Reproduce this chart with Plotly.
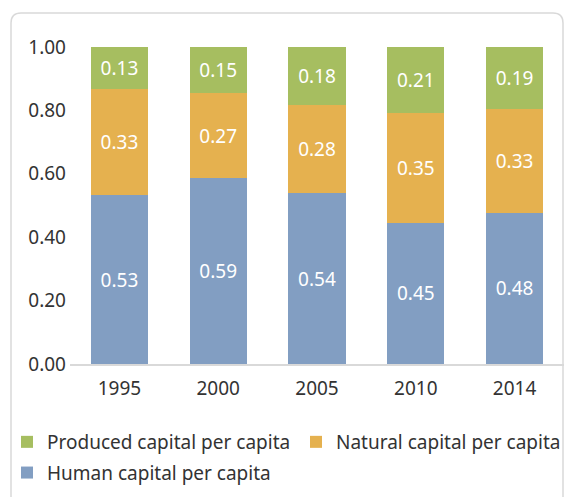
import plotly.graph_objects as go

years = ["1995", "2000", "2005", "2010", "2014"]
human = [0.533, 0.587, 0.538, 0.446, 0.477]
natural = [0.333, 0.267, 0.278, 0.346, 0.328]
produced = [0.134, 0.146, 0.184, 0.208, 0.194]
y_ticks = [0.0, 0.2, 0.4, 0.6, 0.8, 1.0]

W, H = 565, 497
ML, MR, MT, MB = 70, 1, 47, 133
PW, PH = W - ML - MR, H - MT - MB


def px_x(px):
    return (px - ML) / PW


def px_y(py):
    return (H - MB - py) / PH


FONT = "Noto Sans"
TXT = "#333333"

fig = go.Figure()
series = [
    ("Human capital per capita", human, "#829EC2", "legend", "g2", 2),
    ("Natural capital per capita", natural, "#E5B14F", "legend2", "g3", 1),
    ("Produced capital per capita", produced, "#A6BE60", "legend", "g1", 1),
]
for name, vals, col, leg, grp, rank in series:
    fig.add_trace(go.Bar(
        x=years, y=vals, name=name, legend=leg, legendgroup=grp,
        legendrank=rank,
        marker=dict(color=col, line=dict(width=0)),
        texttemplate="%{y:.2f}", textposition="inside",
        insidetextanchor="middle", textangle=0,
        textfont=dict(family=FONT, size=19, color="white"),
        constraintext="none",
    ))

# rounded frame
l, t, r, b = 11, 13, 563, 520
rad = 10
x0, x1 = px_x(l), px_x(r)
y0, y1 = px_y(b), px_y(t)
rx, ry = rad / PW, rad / PH
path = (f"M {x0},{y0} L {x0},{y1-ry} Q {x0},{y1} {x0+rx},{y1} "
        f"L {x1-rx},{y1} Q {x1},{y1} {x1},{y1-ry} L {x1},{y0}")
fig.add_shape(type="path", path=path, xref="paper", yref="paper",
              line=dict(color="#D9D9D9", width=1.5), layer="below")

legend_common = dict(
    orientation="v", yanchor="top", xanchor="left",
    font=dict(family=FONT, size=19, color=TXT),
    bgcolor="rgba(0,0,0,0)", borderwidth=0,
)

fig.update_layout(
    width=W, height=H,
    margin=dict(l=ML, r=MR, t=MT, b=MB, autoexpand=False),
    barmode="stack", bargap=0.42,
    paper_bgcolor="white", plot_bgcolor="white",
    font=dict(family=FONT, size=19, color=TXT),
    showlegend=True,
    legend=dict(x=px_x(7), y=px_y(423), traceorder="grouped",
                tracegroupgap=3, **legend_common),
    legend2=dict(x=px_x(296), y=px_y(423), **legend_common),
    xaxis=dict(
        showline=True, linecolor="#D9D9D9", linewidth=1.5,
        ticks="", showgrid=False, ticklabelstandoff=6,
        tickfont=dict(family=FONT, size=19, color=TXT),
    ),
    yaxis=dict(
        range=[0, 1], tickvals=y_ticks, tickformat=".2f",
        showgrid=False, zeroline=False, showline=False, ticks="",
        ticklabelstandoff=3,
        tickfont=dict(family=FONT, size=19, color=TXT),
    ),
)

fig.write_html("out.html", config={"displayModeBar": False},
               post_script="document.body.style.margin='0';")
